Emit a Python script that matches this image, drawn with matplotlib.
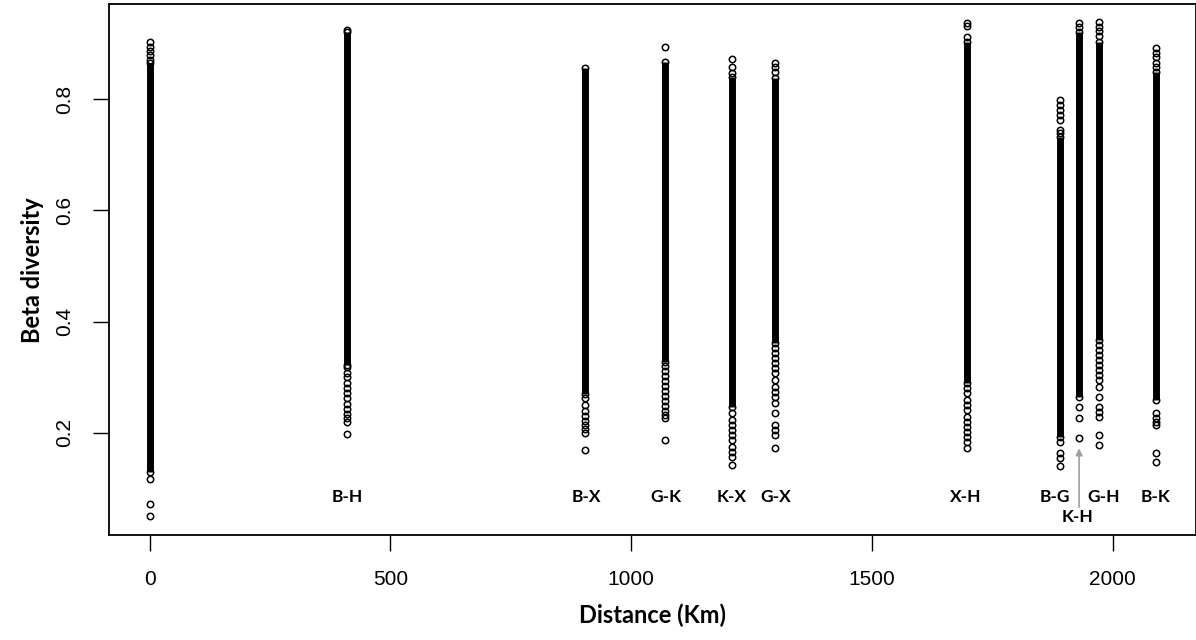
import matplotlib
matplotlib.use("Agg")
import matplotlib.pyplot as plt

# pairwise distance (km) for each site pair
distances = [0, 410, 904, 1071, 1210, 1299, 1697, 1890, 1930, 1971, 2090]
pairs = ["", "B-H", "B-X", "G-K", "K-X", "G-X", "X-H", "B-G", "K-H", "G-H", "B-K"]

# range where the beta diversity values overlap into a solid band
band_low = [0.130, 0.322, 0.270, 0.328, 0.247, 0.361, 0.289, 0.193, 0.265, 0.367, 0.259]
band_high = [0.865, 0.921, 0.856, 0.868, 0.841, 0.838, 0.904, 0.733, 0.922, 0.904, 0.850]

# values that stand apart from the band
loose = [
    [0.904, 0.895, 0.887, 0.880, 0.871, 0.116, 0.072, 0.051],
    [0.925, 0.318, 0.308, 0.300, 0.290, 0.280, 0.272, 0.262, 0.252, 0.243,
     0.234, 0.226, 0.219, 0.198],
    [0.262, 0.250, 0.240, 0.231, 0.222, 0.214, 0.207, 0.200, 0.169],
    [0.895, 0.320, 0.311, 0.302, 0.293, 0.284, 0.275, 0.266, 0.257, 0.248,
     0.240, 0.232, 0.226, 0.187],
    [0.872, 0.859, 0.848, 0.235, 0.223, 0.214, 0.205, 0.196, 0.187, 0.175,
     0.166, 0.157, 0.142],
    [0.866, 0.859, 0.850, 0.352, 0.343, 0.334, 0.325, 0.316, 0.307, 0.295,
     0.283, 0.274, 0.265, 0.253, 0.235, 0.214, 0.205, 0.196, 0.172],
    [0.938, 0.932, 0.912, 0.280, 0.271, 0.259, 0.250, 0.241, 0.229, 0.220,
     0.211, 0.202, 0.193, 0.184, 0.172],
    [0.799, 0.790, 0.781, 0.772, 0.763, 0.745, 0.739, 0.184, 0.163, 0.154, 0.140],
    [0.937, 0.931, 0.247, 0.226, 0.190],
    [0.939, 0.931, 0.923, 0.914, 0.358, 0.349, 0.340, 0.331, 0.322, 0.313,
     0.304, 0.295, 0.283, 0.265, 0.247, 0.238, 0.229, 0.196, 0.178],
    [0.892, 0.884, 0.876, 0.865, 0.859, 0.235, 0.226, 0.220, 0.214, 0.163, 0.148],
]

# where each pair name is written
label_x = [None, 410, 906, 1071, 1208, 1301, 1695, 1880, 1926, 1980, 2088]
label_y = [None, 0.084, 0.084, 0.084, 0.084, 0.084, 0.084, 0.084, 0.048, 0.084, 0.084]

fig = plt.figure(figsize=(11.96, 6.4), dpi=100)
ax = fig.add_axes([0.0914, 0.1641, 0.9082, 0.8292])

circ = dict(ls="none", marker="o", ms=4.6, mfc="none", mec="black", mew=1.1, zorder=3)
for d, lo, hi, pts in zip(distances, band_low, band_high, loose):
    ax.plot([d, d], [lo, hi], color="black", lw=5.0, solid_capstyle="butt", zorder=2)
    ax.plot([d, d], [lo, hi], **circ)
    ax.plot([d] * len(pts), pts, **circ)

for name, x, y in zip(pairs, label_x, label_y):
    if name:
        ax.text(x, y, name, ha="center", va="center", fontsize=12.5,
                fontweight="bold", family="Lato")

# arrow pointing the K-H label to its column
ax.annotate("", xy=(1930, 0.172), xytext=(1930, 0.066),
            arrowprops=dict(arrowstyle="-|>", color="#a0a0a0", lw=1.2,
                            mutation_scale=10, shrinkA=0, shrinkB=0))

ax.set_xlim(-83.6, 2171.7)
ax.set_ylim(0.016, 0.971)
ax.set_xticks([0, 500, 1000, 1500, 2000])
ax.set_yticks([0.2, 0.4, 0.6, 0.8])
ax.set_yticklabels(["0.2", "0.4", "0.6", "0.8"], rotation=90, va="center")
ax.tick_params(axis="both", length=11.5, width=1.0, direction="out",
               labelsize=15, pad=14)
for lbl in ax.get_xticklabels() + ax.get_yticklabels():
    lbl.set_family("Liberation Sans")
for s in ax.spines.values():
    s.set_linewidth(1.3)

ax.set_xlabel("Distance (Km)", fontsize=17, fontweight="bold", family="Lato", labelpad=10)
ax.set_ylabel("Beta diversity", fontsize=17, fontweight="bold", family="Lato", labelpad=8)

fig.savefig("out.png", dpi=100)
